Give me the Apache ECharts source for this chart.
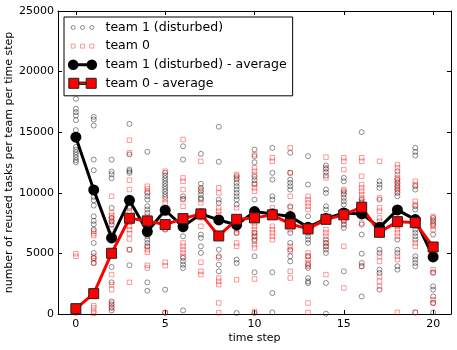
<!DOCTYPE html>
<html>
<head>
<meta charset="utf-8">
<script src="https://cdn.jsdelivr.net/npm/echarts@6.0.0/dist/echarts.min.js"></script>
<style>
  html, body { margin: 0; padding: 0; background: #fff; }
  #chart { width: 457px; height: 350px; }
</style>
</head>
<body>
<div id="chart"></div>
<script>
// time steps 0..20
var timeSteps = [0, 1, 2, 3, 4, 5, 6, 7, 8, 9, 10, 11, 12, 13, 14, 15, 16, 17, 18, 19, 20];
var xTicks = [0, 5, 10, 15, 20];

// team 1 (disturbed) - single runs, one list per time step
var team1Runs = [
    [17760, 16930, 16650, 16380, 15990, 15170, 13790, 13570, 13350, 13130, 12910, 12690, 12520],
    [16270, 16050, 15550, 12740, 11860, 9660, 9380, 8950, 8060, 7680, 7400, 6960, 5860, 5040, 4630, 4210],
    [12740, 11750, 11530, 11200, 8760, 7930, 7650, 7380, 3880, 2610, 1040, 770, 550, 300],
    [15690, 13160, 11920, 11780, 11650, 9400, 8760, 5310, 4020],
    [13380, 9990, 9710, 9440, 8890, 8620, 8340, 6410, 6140, 5860, 5580, 2610, 1920],
    [11650, 11430, 11200, 10980, 10760, 10540, 10320, 10100, 9880, 9660, 7510, 7240, 6960, 2010, 100],
    [13840, 12740, 9710, 9500, 6960, 6410, 4630, 4340, 4070, 3800, 300],
    [13210, 10740, 10400, 10130, 9850, 9580, 9440, 6550, 6280, 5580, 5040],
    [15450, 12560, 9440, 9170, 7790, 5310, 4760, 4070, 3520],
    [11370, 11100, 10820, 10540, 10270, 9990, 9710, 9440, 9030, 6690, 4490, 4210, 80],
    [13570, 13020, 12520, 11320, 11040, 10760, 9440, 6690, 6410, 6140, 4760, 3440, 80],
    [13710, 11650, 11090, 9710, 9440, 8060, 3440, 1730, 130],
    [13300, 11650, 11090, 10820, 10540, 10270, 8890, 6690, 5860, 5310, 4760, 4340],
    [13020, 10680, 8060, 6690, 6410, 6140, 5860, 4760, 4070, 3800, 2970, 2690, 2550],
    [12250, 11970, 11700, 11420, 10270, 9990, 8890, 8620, 6140, 5860, 5580, 5310, 5040, 2560, 30],
    [11230, 10950, 10130, 9850, 9580, 9300, 9030, 7650, 7380, 7100, 3520],
    [15000, 9440, 9170, 8890, 7380, 6550, 4980, 4210, 3940, 1450],
    [10950, 10680, 10410, 9440, 5310, 5040, 3660, 3390, 2010],
    [11780, 11090, 10820, 10540, 10270, 9990, 9710, 6140, 5310, 5040, 3940, 3660],
    [13710, 13380, 13080, 10540, 10270, 8890, 8620, 7240, 6960, 6690, 6410, 6140, 4760, 4490, 4210, 3940, 130],
    [7930, 7650, 7380, 6550, 3440, 2280, 2010, 1450, 910, 130]
];

// team 0 - single runs, one list per time step
var team0Runs = [
    [4980, 4760, 500, 100],
    [6820, 6630, 6470, 4760, 4540, 4210, 690, 500, 215, 50],
    [9710, 8340, 8120, 7850, 7620, 7020, 6240, 3250, 2420, 2010, 910, 500],
    [14340, 13300, 11040, 10270, 8890, 8400, 8060, 7570, 7240, 6960, 6630, 6190, 5310, 2610],
    [10540, 10320, 10100, 8060, 5580, 5310, 5090, 4020, 3800],
    [11780, 9440, 9170, 7240, 7020, 4270, 3990, 130],
    [14400, 11230, 10950, 10270, 9440, 8890, 7510, 5860, 5590, 5310, 5040, 4760],
    [12600, 10270, 9170, 7930, 7240, 4270, 3520, 3250],
    [10410, 9990, 8760, 8480, 8200, 7930, 4630, 2970, 2690, 2420, 910, 100],
    [11510, 11230, 8760, 7510, 7240, 6960, 6690, 5860, 5580, 2830],
    [13160, 12060, 11780, 11510, 10680, 10410, 10130, 7510, 7240, 6960, 6690, 6410, 6000, 5720, 5450, 2890, 215],
    [12890, 12600, 8760, 8480, 7240, 6960, 6690, 6410, 6140],
    [13710, 11650, 9710, 8760, 7510, 6960, 5580, 5170, 3520, 2970],
    [9710, 9440, 9170, 8890, 8620, 5040, 4770, 4490, 4210, 3940, 910, 130],
    [12940, 12060, 11230, 6960, 6690, 6410, 5860, 5580, 3250],
    [12890, 12600, 11920, 10270, 9990, 8200, 7790, 7380, 5580, 2150],
    [12890, 12600, 11370, 10680, 10410, 10130, 9850, 9580, 9300, 7510, 3940],
    [12600, 9580, 8760, 8480, 7930, 7650, 4760, 4340, 3110, 2690, 2280],
    [12330, 12060, 11510, 11230, 10960, 10680, 10410, 10130, 7240, 6960, 6690, 6410, 4760, 4490, 130],
    [10950, 10680, 9300, 9030, 7930, 5860, 5580, 130],
    [8060, 7790, 7510, 7240, 6960, 3660, 3390, 1180, 910]
];

// averages
var team1Avg = [14590, 10240, 6280, 9380, 6800, 8560, 7210, 8260, 7760, 7350, 8450,
                8260, 8040, 7150, 7870, 8340, 8260, 7150, 8590, 7790, 4710];
var team0Avg = [440, 1680, 5010, 7900, 7680, 7380, 7870, 8260, 6440, 7810, 7930,
                8180, 7430, 7020, 7810, 8180, 8810, 6740, 7620, 7540, 5530];

var seriesNames = ['team 1 (disturbed)', 'team 0', 'team 1 (disturbed) - average', 'team 0 - average'];

function toPoints(runs) {
    var pts = [];
    runs.forEach(function (list, i) {
        list.forEach(function (v) { pts.push([timeSteps[i], v]); });
    });
    return pts;
}
function toLine(avg) {
    return avg.map(function (v, i) { return [timeSteps[i], v]; });
}

// legend icons (box 33 x 12)
var box = 'M0,0 M33,12 ';
function circ(cx, cy, r) {
    return 'M' + (cx - r) + ',' + cy + ' A' + r + ',' + r + ' 0 1,1 ' + (cx + r) + ',' + cy +
           ' A' + r + ',' + r + ' 0 1,1 ' + (cx - r) + ',' + cy + ' Z ';
}
function sq(cx, cy, h) {
    return 'M' + (cx - h) + ',' + (cy - h) + ' L' + (cx + h) + ',' + (cy - h) + ' L' + (cx + h) + ',' + (cy + h) +
           ' L' + (cx - h) + ',' + (cy + h) + ' Z ';
}
var iconDots = 'path://' + box + circ(5.7, 6, 2) + circ(15, 6, 2) + circ(24.3, 6, 2);
var iconSquares = 'path://' + box + sq(5.7, 6, 2) + sq(15, 6, 2) + sq(24.3, 6, 2);
var iconAvg1 = 'path://' + box + circ(5.7, 6, 5.3) + 'M10,4.5 L20,4.5 L20,7.5 L10,7.5 Z ' + circ(24.3, 6, 5.3);
var iconAvg0 = 'path://' + box + sq(6.3, 6, 5) + 'M11.3,4.8 L18.7,4.8 L18.7,7.2 L11.3,7.2 Z ' + sq(23.7, 6, 5);

var myChart = echarts.init(document.getElementById('chart'));

var font = 'DejaVu Sans';
var tickStyle = { inside: true, length: 4, lineStyle: { color: '#000', width: 1 } };

var option = {
    animation: false,
    backgroundColor: '#fff',
    grid: { left: 58, right: 6, top: 11, bottom: 36, containLabel: false, outerBoundsMode: 'none' },
    legend: {
        orient: 'vertical',
        left: 64,
        top: 17,
        padding: [4, 6, 6, 3],
        itemWidth: 33,
        itemHeight: 12,
        itemGap: 5.6,
        borderColor: '#000',
        borderWidth: 1,
        backgroundColor: '#fff',
        textStyle: { fontFamily: font, fontSize: 12.5, color: '#000' },
        data: [
            { name: seriesNames[0], icon: iconDots,
              itemStyle: { color: 'rgba(0,0,0,0)', borderColor: 'rgba(0,0,0,0.55)', borderWidth: 1 } },
            { name: seriesNames[1], icon: iconSquares,
              itemStyle: { color: 'rgba(0,0,0,0)', borderColor: 'rgba(255,0,0,0.5)', borderWidth: 1 } },
            { name: seriesNames[2], icon: iconAvg1,
              itemStyle: { color: '#000', borderColor: '#000', borderWidth: 0 } },
            { name: seriesNames[3], icon: iconAvg0,
              itemStyle: { color: '#ff0000', borderColor: '#222', borderWidth: 1 } }
        ]
    },
    xAxis: [
        {
            type: 'value', min: -1, max: 21, position: 'bottom',
            name: 'time step', nameLocation: 'middle', nameGap: 19, nameMoveOverlap: false,
            nameTextStyle: { fontFamily: font, fontSize: 11, color: '#000' },
            axisLine: { show: true, onZero: false, lineStyle: { color: '#000', width: 1 } },
            axisTick: Object.assign({ customValues: xTicks }, tickStyle),
            axisLabel: { customValues: xTicks, fontFamily: font, fontSize: 11, color: '#000', margin: 5 },
            splitLine: { show: false }
        },
        {
            type: 'value', min: -1, max: 21, position: 'top',
            axisLine: { show: true, onZero: false, lineStyle: { color: '#000', width: 1 } },
            axisTick: Object.assign({ customValues: xTicks }, tickStyle),
            axisLabel: { show: false },
            splitLine: { show: false }
        }
    ],
    yAxis: [
        {
            type: 'value', min: 0, max: 25000, interval: 5000, position: 'left',
            name: 'number of reused tasks per team per time step', nameLocation: 'middle',
            nameRotate: 90, nameGap: 43, nameMoveOverlap: false,
            nameTextStyle: { fontFamily: font, fontSize: 11, color: '#000' },
            axisLine: { show: true, onZero: false, lineStyle: { color: '#000', width: 1 } },
            axisTick: tickStyle,
            axisLabel: {
                fontFamily: font, fontSize: 11, color: '#000', margin: 4,
                formatter: function (v) { return String(v); }
            },
            splitLine: { show: false }
        },
        {
            type: 'value', min: 0, max: 25000, interval: 5000, position: 'right',
            axisLine: { show: true, onZero: false, lineStyle: { color: '#000', width: 1 } },
            axisTick: tickStyle,
            axisLabel: { show: false },
            splitLine: { show: false }
        }
    ],
    series: [
        {
            name: seriesNames[0], type: 'scatter',
            symbol: 'circle', symbolSize: 5,
            itemStyle: { color: 'rgba(0,0,0,0)', borderColor: 'rgba(0,0,0,0.55)', borderWidth: 1 },
            data: toPoints(team1Runs)
        },
        {
            name: seriesNames[1], type: 'scatter',
            symbol: 'rect', symbolSize: 4.5,
            itemStyle: { color: 'rgba(0,0,0,0)', borderColor: 'rgba(255,0,0,0.5)', borderWidth: 1 },
            data: toPoints(team0Runs)
        },
        {
            name: seriesNames[2], type: 'line',
            symbol: 'circle', symbolSize: 11,
            lineStyle: { color: '#000', width: 3 },
            itemStyle: { color: '#000', borderColor: '#000', borderWidth: 0 },
            data: toLine(team1Avg)
        },
        {
            name: seriesNames[3], type: 'line',
            symbol: 'rect', symbolSize: 10,
            lineStyle: { color: '#ff0000', width: 3 },
            itemStyle: { color: '#ff0000', borderColor: '#222', borderWidth: 1 },
            data: toLine(team0Avg)
        }
    ]
};

myChart.setOption(option, true);
</script>
</body>
</html>
